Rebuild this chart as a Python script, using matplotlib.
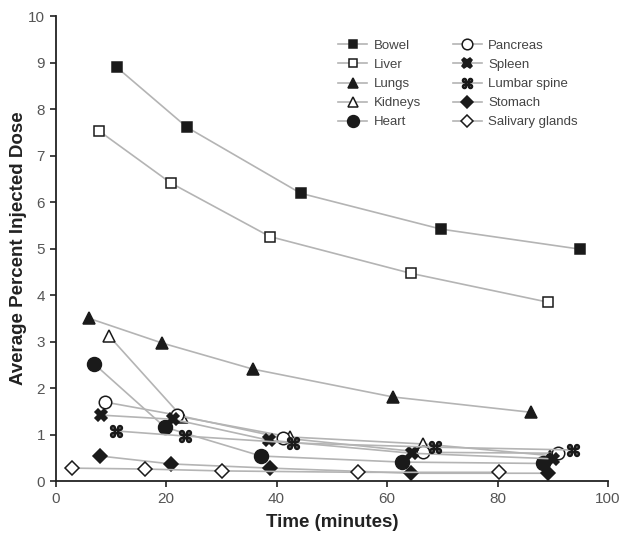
import matplotlib
matplotlib.use("Agg")
import matplotlib.pyplot as plt

plt.rcParams['font.family'] = ['Liberation Sans', 'DejaVu Sans']

organs = ["Bowel", "Liver", "Lungs", "Kidneys", "Heart",
          "Pancreas", "Spleen", "Lumbar spine", "Stomach", "Salivary glands"]

bowel_t = [11.1, 23.8, 44.4, 69.8, 94.9]
bowel_y = [8.90, 7.61, 6.19, 5.42, 4.99]
liver_t = [7.9, 20.9, 38.8, 64.3, 89.1]
liver_y = [7.53, 6.41, 5.26, 4.47, 3.85]
lungs_t = [6.1, 19.3, 35.7, 61.1, 86.1]
lungs_y = [3.50, 2.97, 2.41, 1.81, 1.48]
kidneys_t = [9.7, 22.9, 42.4, 66.5, 89.5]
kidneys_y = [3.12, 1.38, 0.95, 0.80, 0.55]
heart_t = [7.0, 19.8, 37.2, 62.7, 88.2]
heart_y = [2.52, 1.16, 0.54, 0.41, 0.38]
pancreas_t = [9.0, 22.0, 41.1, 66.5, 91.0]
pancreas_y = [1.70, 1.42, 0.93, 0.62, 0.60]
spleen_t = [8.2, 21.3, 38.6, 64.5, 90.0]
spleen_y = [1.42, 1.33, 0.88, 0.60, 0.48]
spine_t = [10.9, 23.4, 43.0, 68.7, 93.7]
spine_y = [1.08, 0.97, 0.82, 0.73, 0.67]
stomach_t = [8.1, 20.9, 38.8, 64.3, 89.1]
stomach_y = [0.54, 0.37, 0.28, 0.17, 0.17]
salivary_t = [3.0, 16.2, 30.1, 54.8, 80.3]
salivary_y = [0.28, 0.26, 0.22, 0.19, 0.19]

series_t = [bowel_t, liver_t, lungs_t, kidneys_t, heart_t,
            pancreas_t, spleen_t, spine_t, stomach_t, salivary_t]
series_y = [bowel_y, liver_y, lungs_y, kidneys_y, heart_y,
            pancreas_y, spleen_y, spine_y, stomach_y, salivary_y]

styles = [
    dict(marker='s', mfc='#1a1a1a', ms=7),
    dict(marker='s', mfc='white', ms=7),
    dict(marker='^', mfc='#1a1a1a', ms=8),
    dict(marker='^', mfc='white', ms=8),
    dict(marker='o', mfc='#1a1a1a', ms=10),
    dict(marker='o', mfc='white', ms=9),
    dict(marker='X', mfc='#1a1a1a', ms=8.5),
    dict(marker='$\u2318$', mfc='#1a1a1a', ms=8.5),
    dict(marker='D', mfc='#1a1a1a', ms=7),
    dict(marker='D', mfc='white', ms=7),
]

fig = plt.figure(figsize=(6.26, 5.40), dpi=100)
ax = fig.add_axes([0.0887, 0.109, 0.8826, 0.861])

for name, t, y, st in zip(organs, series_t, series_y, styles):
    ax.plot(t, y, color='#b4b4b4', lw=1.2, marker=st['marker'],
            mfc=st['mfc'], mec='#1a1a1a', mew=1.1, ms=st['ms'],
            label=name, zorder=3)

ax.set_xlim(0, 100)
ax.set_ylim(0, 10)
ax.set_xticks(range(0, 101, 20))
ax.set_yticks(range(0, 11, 1))
for s in ['top', 'right']:
    ax.spines[s].set_visible(False)
for s in ['left', 'bottom']:
    ax.spines[s].set_linewidth(1.3)
    ax.spines[s].set_color('#222222')
ax.tick_params(direction='out', length=4, width=1.2, labelsize=11,
               labelcolor='#555555', color='#222222')
ax.set_xlabel('Time (minutes)', fontsize=13.5, fontweight='bold', color='#222222',
              labelpad=6)
ax.set_ylabel('Average Percent Injected Dose', fontsize=13.5, fontweight='bold',
              color='#222222', labelpad=1)

leg = ax.legend(ncol=2, loc='upper left', bbox_to_anchor=(0.49, 0.975),
                frameon=False, fontsize=9.5, handlelength=2.2,
                columnspacing=2.4, labelspacing=0.52, handletextpad=0.5,
                markerscale=0.85)
for txt in leg.get_texts():
    txt.set_color('#444444')

fig.savefig('out.png', dpi=100)
